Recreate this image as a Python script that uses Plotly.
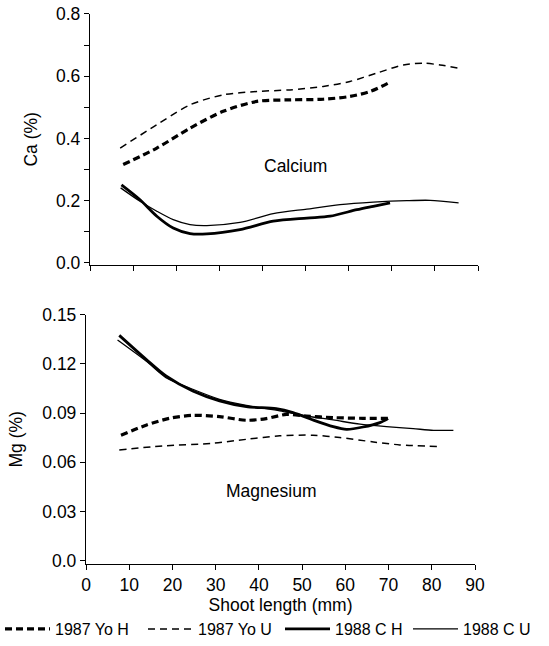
import plotly.graph_objects as go

# ---------------- Data ----------------
# Calcium (%), top panel
ca_yoH_x = [7.7, 15.5, 23.2, 30.9, 38.7, 46.4, 54.1, 60.3, 65.0, 69.2]
ca_yoH_y = [0.316, 0.369, 0.433, 0.487, 0.519, 0.524, 0.526, 0.535, 0.551, 0.578]

ca_yoU_x = [7.0, 15.5, 23.2, 30.9, 38.7, 46.4, 54.1, 60.3, 66.5, 72.7, 77.3, 81.2, 85.5]
ca_yoU_y = [0.369, 0.444, 0.508, 0.540, 0.551, 0.556, 0.567, 0.583, 0.610, 0.636, 0.642, 0.636, 0.626]

ca_cH_x = [7.3, 11.6, 15.5, 19.3, 23.2, 27.1, 34.8, 42.5, 50.3, 55.7, 61.9, 65.7, 69.6]
ca_cH_y = [0.251, 0.203, 0.150, 0.112, 0.094, 0.093, 0.107, 0.134, 0.144, 0.150, 0.171, 0.182, 0.193]

ca_cU_x = [7.1, 11.6, 15.5, 19.3, 23.2, 27.1, 34.8, 42.5, 50.3, 58.0, 65.7, 73.5, 78.9, 85.5]
ca_cU_y = [0.241, 0.198, 0.166, 0.139, 0.123, 0.120, 0.130, 0.158, 0.173, 0.187, 0.195, 0.200, 0.201, 0.193]

# Magnesium (%), bottom panel
mg_yoH_x = [8.1, 13.9, 19.3, 24.7, 30.9, 37.1, 41.7, 46.4, 51.0, 57.2, 64.1, 69.9]
mg_yoH_y = [0.0765, 0.0826, 0.0868, 0.0886, 0.0878, 0.0856, 0.0866, 0.0892, 0.0882, 0.0872, 0.0868, 0.0868]

mg_yoU_x = [7.7, 17.8, 29.4, 37.1, 44.8, 52.5, 58.7, 66.5, 72.6, 81.5]
mg_yoU_y = [0.0675, 0.0700, 0.0716, 0.0740, 0.0761, 0.0765, 0.0751, 0.0724, 0.0706, 0.0696]

mg_cH_x = [7.7, 13.9, 18.5, 24.7, 30.9, 37.1, 44.0, 47.9, 52.5, 57.2, 60.3, 64.1, 68.0, 69.9]
mg_cH_y = [0.1373, 0.1227, 0.1126, 0.1034, 0.0974, 0.0939, 0.0927, 0.0903, 0.0858, 0.0817, 0.0801, 0.0815, 0.0842, 0.0866]

mg_cU_x = [7.3, 13.9, 18.5, 24.7, 30.9, 37.1, 44.8, 51.0, 57.2, 63.4, 69.5, 75.7, 80.4, 85.0]
mg_cU_y = [0.1345, 0.1217, 0.1116, 0.1045, 0.0984, 0.0947, 0.0913, 0.0882, 0.0858, 0.0832, 0.0817, 0.0805, 0.0795, 0.0795]

series_names = ["1987 Yo H", "1987 Yo U", "1988 C H", "1988 C U"]

ca_ticks = [0.0, 0.2, 0.4, 0.6, 0.8]
ca_ticklabels = ["0.0", "0.2", "0.4", "0.6", "0.8"]
ca_minor_ticks = [0.1, 0.3, 0.5, 0.7]
mg_ticks = [0.0, 0.03, 0.06, 0.09, 0.12, 0.15]
mg_ticklabels = ["0.0", "0.03", "0.06", "0.09", "0.12", "0.15"]
x_ticks = [0, 10, 20, 30, 40, 50, 60, 70, 80, 90]

# ---------------- Styles ----------------
W, H = 549, 646
OFF = 0  # body margin removed below via post_script
FONT = "Liberation Sans, Arial, Helvetica, sans-serif"
FS = 17.5
styles = [
    dict(color="black", width=3.2, dash="7px,4px"),
    dict(color="black", width=1.5, dash="7px,5px"),
    dict(color="black", width=2.8),
    dict(color="black", width=1.3),
]
legend_ids = ["legend", "legend2", "legend3", "legend4"]
legend_left_px = [0, 143, 280, 408]

fig = go.Figure()

ca_data = [(ca_yoH_x, ca_yoH_y), (ca_yoU_x, ca_yoU_y), (ca_cH_x, ca_cH_y), (ca_cU_x, ca_cU_y)]
mg_data = [(mg_yoH_x, mg_yoH_y), (mg_yoU_x, mg_yoU_y), (mg_cH_x, mg_cH_y), (mg_cU_x, mg_cU_y)]

for i, (x, y) in enumerate(ca_data):
    fig.add_trace(go.Scatter(x=x, y=y, mode="lines", name=series_names[i],
                             line=dict(shape="spline", smoothing=0.8, **styles[i]),
                             xaxis="x2", yaxis="y2", showlegend=False))
for i, (x, y) in enumerate(mg_data):
    fig.add_trace(go.Scatter(x=x, y=y, mode="lines", name=series_names[i],
                             line=dict(shape="spline", smoothing=0.8, **styles[i]),
                             xaxis="x", yaxis="y", showlegend=True,
                             legend=legend_ids[i]))


def px_x(p):
    return (p - OFF) / W


def px_y(p):
    return 1 - (p - OFF) / H


tfont = dict(family=FONT, size=FS, color="black")
common_axis = dict(showgrid=False, zeroline=False, showline=True, linecolor="black",
                   linewidth=1.3, ticks="outside", tickcolor="black", tickwidth=1.3,
                   ticklen=5, automargin=False, tickfont=tfont,
                   ticklabeloverflow="allow")

legend_layouts = {}
for lid, lx in zip(legend_ids, legend_left_px):
    legend_layouts[lid] = dict(orientation="h", x=px_x(lx), xanchor="left",
                               y=px_y(630), yanchor="middle",
                               font=dict(family=FONT, size=16, color="black"),
                               itemwidth=45, bgcolor="rgba(0,0,0,0)", borderwidth=0)

fig.update_layout(
    width=W, height=H,
    margin=dict(l=0, r=0, t=0, b=0),
    paper_bgcolor="white", plot_bgcolor="white",
    font=tfont,
    # bottom panel (Mg)
    xaxis=dict(domain=[px_x(86), px_x(475)], range=[0, 90], tickvals=x_ticks,
               anchor="y", ticklabelstandoff=0,
               title=dict(text="Shoot length (mm)", standoff=0, font=tfont),
               **common_axis),
    yaxis=dict(domain=[px_y(565), px_y(315)], range=[-0.002, 0.15],
               tickvals=mg_ticks, ticktext=mg_ticklabels, anchor="x",
               title=dict(text="Mg (%)", standoff=15, font=tfont),
               **common_axis),
    # top panel (Ca)
    xaxis2=dict(domain=[px_x(90), px_x(478)], range=[0, 90], tickvals=x_ticks,
                showticklabels=False, anchor="y2", **common_axis),
    yaxis2=dict(domain=[px_y(265), px_y(14)], range=[-0.0055, 0.8],
                tickvals=ca_ticks, ticktext=ca_ticklabels, anchor="x2",
                minor=dict(ticks="outside", tickvals=ca_minor_ticks,
                           ticklen=5, tickcolor="black", tickwidth=1.3),
                title=dict(text="Ca (%)", standoff=13, font=tfont),
                **common_axis),
    showlegend=True,
    annotations=[
        dict(text="Calcium", x=47.6, y=0.310, xref="x2", yref="y2", showarrow=False,
             font=tfont),
        dict(text="Magnesium", x=42.9, y=0.0426, xref="x", yref="y", showarrow=False,
             font=tfont),
    ],
    **legend_layouts,
)

fig.write_html("out.html", config={"displayModeBar": False},
               post_script="document.body.style.margin='0';document.body.style.padding='0';")
